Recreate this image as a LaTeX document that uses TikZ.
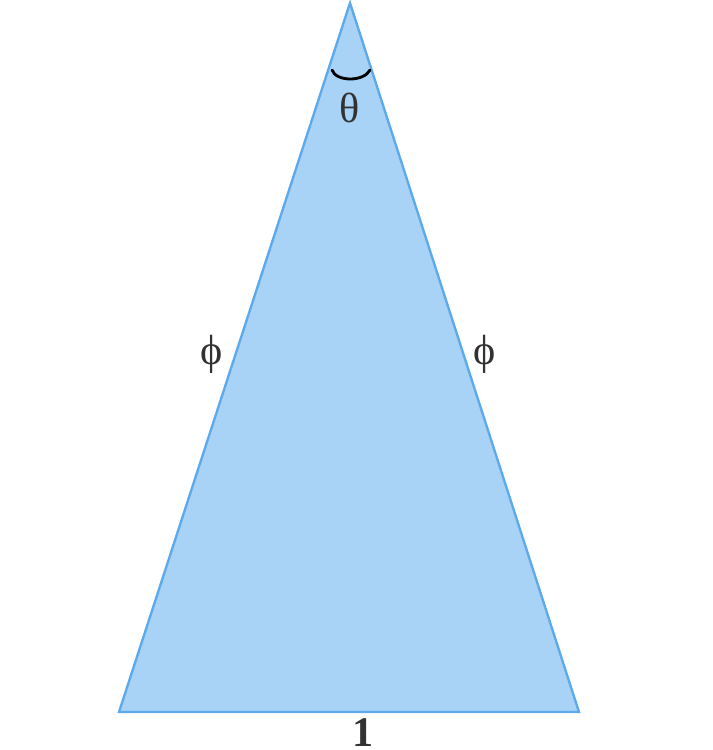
\documentclass[tikz,border=0pt]{standalone}
\usepackage{fontspec}
\setmainfont{Liberation Serif}
\newfontfamily\grkfont{Liberation Serif}
\usepackage{xcolor}
\usepackage{tikz}
\usetikzlibrary{positioning}
\definecolor{trifill}{RGB}{168,210,246}
\definecolor{triedge}{RGB}{92,170,236}
\definecolor{labelgray}{RGB}{50,50,50}
\tikzset{
	anglelabel/.style={text=labelgray,font={\grkfont\fontsize{36}{40}\selectfont}},
}

\begin{document}
\begin{tikzpicture}[x=0.03cm,y=0.03cm]
	\useasboundingbox (0,0) rectangle (713,750);
	
	\coordinate (top) at (350,747);
	\coordinate (bl) at (119,38);
	\coordinate (br) at (579,38);
	
	\filldraw[fill=trifill,draw=triedge,line width=2pt,line join=miter]
	(top)--(bl)--(br)--cycle; % 三角形
	
	\coordinate (arcl) at (332,680);
	\coordinate (arcr) at (370,680);
	\draw[black,line width=2.4pt,line cap=round]
	(arcl) .. controls (336,668) and (364,668) .. (arcr); % 顶角
	
	\node[anglelabel] (theta) at (350,642) {θ};
	\node[anglelabel] (phil) at (212,396) {ϕ};
	\node[anglelabel] (phir) at (485,396) {ϕ};
	\node[anglelabel,font={\grkfont\fontsize{36}{40}\selectfont\bfseries},inner sep=0pt,text depth=0pt,anchor=base] (one) at (363,4) {1};
\end{tikzpicture}
\end{document}
